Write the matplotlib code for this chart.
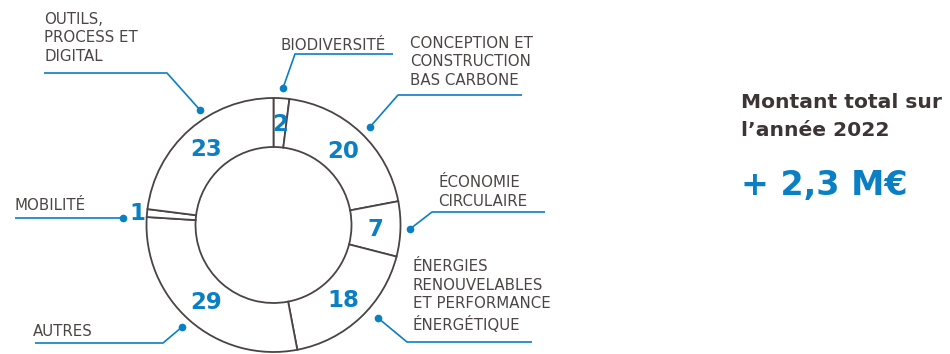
import numpy as np
import matplotlib
matplotlib.use("Agg")
import matplotlib.pyplot as plt

# data
categories = ["BIODIVERSITÉ", "CONCEPTION ET\nCONSTRUCTION\nBAS CARBONE", "ÉCONOMIE\nCIRCULAIRE",
              "ÉNERGIES\nRENOUVELABLES\nET PERFORMANCE\nÉNERGÉTIQUE", "AUTRES", "MOBILITÉ",
              "OUTILS,\nPROCESS ET\nDIGITAL"]
values = [2, 20, 7, 18, 29, 1, 23]
title_lines = ["Montant total sur", "l’année 2022"]
total_label = "+ 2,3 M€"

BLUE = "#0a7fc3"
GREY = "#4b4545"
EDGE = "#4a4444"
H = 354

plt.rcParams['font.family'] = ['DejaVu Sans']

fig = plt.figure(figsize=(9.5, 3.54), dpi=100)
ax = fig.add_axes([0, 0, 1, 1])

cx, cy = 273.5, H - 225
r_out, r_in = 127, 78
wedges, _ = ax.pie(values, startangle=90, counterclock=False, center=(cx, cy), radius=r_out,
                   colors=["white"] * len(values),
                   wedgeprops=dict(width=r_out - r_in, edgecolor=EDGE, linewidth=1.3))
ax.set_xlim(0, 950)
ax.set_ylim(0, H)
ax.set_aspect('equal')
ax.axis('off')

# numbers on the ring
for w, v in zip(wedges, values):
    ang = np.deg2rad((w.theta1 + w.theta2) / 2)
    r = 102 if v > 1 else 137
    ax.text(cx + r * np.cos(ang), cy + r * np.sin(ang) - 1, str(v), color=BLUE,
            fontsize=16.5, fontweight='bold', ha='center', va='center')

# leader lines: text x, text block centre y, line points in image px (dot first)
layout = [
    (281, 45, [(283, 88), (295, 54), (393, 54)]),
    (410, 62, [(370, 127), (398, 95), (522, 95)]),
    (438, 192, [(410, 229), (432, 212), (545, 212)]),
    (413, 296, [(378, 318), (407, 342), (532, 342)]),
    (33, 331, [(182, 327), (163, 343), (35, 343)]),
    (15, 205, [(123, 218), (15, 218)]),
    (44, 38, [(200, 110), (167, 73), (44, 73)]),
]
for cat, (tx, ty, pts) in zip(categories, layout):
    xs = [p[0] for p in pts]
    ys = [H - p[1] for p in pts]
    ax.plot(xs, ys, color=BLUE, lw=1.2, solid_capstyle='butt')
    ax.plot(xs[0], ys[0], 'o', color=BLUE, ms=4.5)
    ax.text(tx, H - ty, cat, color=GREY, fontsize=10.8, fontweight='normal',
            ha='left', va='center', linespacing=1.3)

ax.text(741, H - 102, title_lines[0], color="#3d3535", fontsize=14.6, fontweight='bold',
        ha='left', va='center')
ax.text(741, H - 130, title_lines[1], color="#3d3535", fontsize=14.6, fontweight='bold',
        ha='left', va='center')
ax.text(741, H - 185, total_label, color=BLUE, fontsize=24, fontweight='bold',
        ha='left', va='center')

fig.savefig("out.png", dpi=100)
